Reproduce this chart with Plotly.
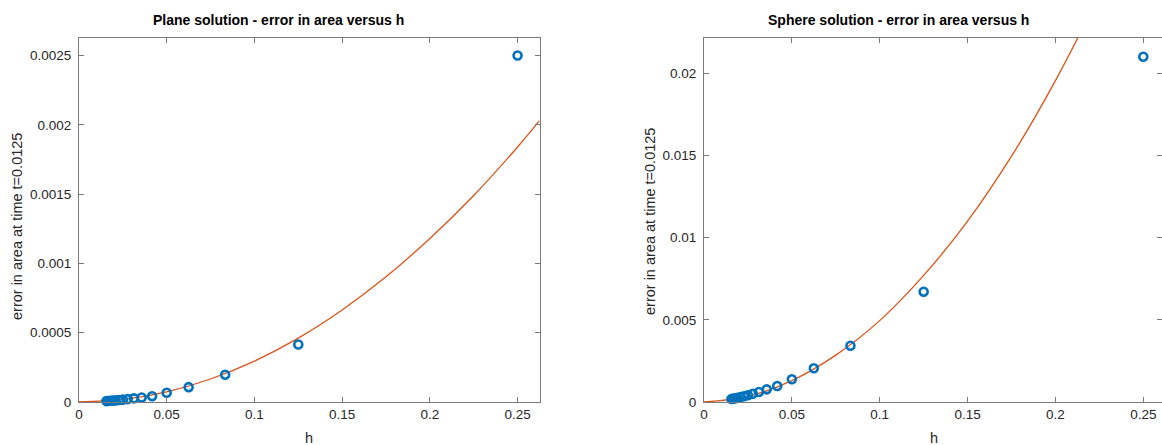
import plotly.graph_objects as go

# ---- data ----
h = [1/4, 1/8, 1/12, 1/16, 1/20, 1/24, 1/28, 1/32, 1/36, 1/40, 1/44, 1/48, 1/52, 1/56, 1/60, 1/64]
plane_err = [0.00250, 0.000415, 0.000197, 0.000107, 0.0000665, 0.000042, 0.0000325, 0.0000264,
             0.0000208, 0.0000169, 0.0000139, 0.0000117, 0.0000100, 0.0000086, 0.0000075, 0.0000066]
sphere_err = [0.0210, 0.00671, 0.00342, 0.00205, 0.00138, 0.00097, 0.00077, 0.00061,
              0.000497, 0.000413, 0.00035, 0.00030, 0.00026, 0.000229, 0.000203, 0.000181]

# fitted curves
fit_h = [0, 0.025, 0.05, 0.075, 0.1, 0.125, 0.15, 0.175, 0.2, 0.225, 0.25, 0.2625]
plane_fit = [0, 0.0000184, 0.0000738, 0.000166, 0.000295, 0.000461, 0.000664, 0.000903,
             0.00118, 0.00149, 0.00184, 0.00203]
sphere_fit = [0, 0.00034, 0.00130, 0.00285, 0.00495, 0.00770, 0.01100, 0.01495,
              0.01955, 0.02480, 0.03060, 0.03375]

x_ticks = [0, 0.05, 0.1, 0.15, 0.2, 0.25]
x_labels = ["0", "0.05", "0.1", "0.15", "0.2", "0.25"]
yL_ticks = [0, 0.0005, 0.001, 0.0015, 0.002, 0.0025]
yL_labels = ["0", "0.0005", "0.001", "0.0015", "0.002", "0.0025"]
yR_ticks = [0, 0.005, 0.01, 0.015, 0.02]
yR_labels = ["0", "0.005", "0.01", "0.015", "0.02"]

titles = ["Plane solution - error in area versus h", "Sphere solution - error in area versus h"]
x_title = "h"
y_title = "error in area at time t=0.0125"

# ---- layout constants ----
W, H = 1162, 445
BLUE = "#0072BD"
ORANGE = "#D95319"
AXC = "#7a7a7a"
TXT = "#262626"
FONT = "Liberation Sans, Arial, sans-serif"

def px_x(p):
    return p / W

def px_y(p):
    return 1 - p / H

fig = go.Figure()

for i, (err, fit) in enumerate([(plane_err, plane_fit), (sphere_err, sphere_fit)]):
    xa = "x" if i == 0 else "x2"
    ya = "y" if i == 0 else "y2"
    fig.add_trace(go.Scatter(x=fit_h, y=fit, mode="lines", line=dict(color=ORANGE, width=1.3, shape="spline"),
                             xaxis=xa, yaxis=ya, showlegend=False, hoverinfo="skip"))
    fig.add_trace(go.Scatter(x=h, y=err, mode="markers",
                             marker=dict(symbol="circle-open", size=8, color=BLUE, line=dict(width=2.6, color=BLUE)),
                             xaxis=xa, yaxis=ya, showlegend=False, cliponaxis=False))

ax_common = dict(showline=True, linecolor=AXC, linewidth=1, mirror="ticks", ticks="inside", ticklen=5,
                 tickcolor=AXC, tickwidth=1, showgrid=False, zeroline=False, automargin=False,
                 tickfont=dict(family=FONT, size=13.5, color=TXT))

ydom = [px_y(402), px_y(38)]
fig.update_layout(
    width=W, height=H, margin=dict(l=0, r=0, t=0, b=0),
    paper_bgcolor="white", plot_bgcolor="white", template="none",
    xaxis=dict(domain=[px_x(79), px_x(539.5)], range=[0, 0.2625], tickvals=x_ticks, ticktext=x_labels,
               anchor="y", **ax_common),
    yaxis=dict(domain=ydom, range=[0, 0.002626], tickvals=yL_ticks, ticktext=yL_labels, anchor="x",
               ticklabelstandoff=4, **ax_common),
    xaxis2=dict(domain=[px_x(704), 1.0], range=[0, (1162 - 704) / 1757.2], tickvals=x_ticks, ticktext=x_labels,
                anchor="y2", **ax_common),
    yaxis2=dict(domain=ydom, range=[0, 0.02214], tickvals=yR_ticks, ticktext=yR_labels, anchor="x2",
                ticklabelstandoff=4, **ax_common),
)

ann = []
for cx, t in zip([278, 898], titles):
    ann.append(dict(x=px_x(cx), y=px_y(20), xref="paper", yref="paper", text="<b>%s</b>" % t, showarrow=False,
                    xanchor="center", yanchor="middle", font=dict(family=FONT, size=14, color="black")))
for cx in [309, 934]:
    ann.append(dict(x=px_x(cx), y=px_y(438), xref="paper", yref="paper", text=x_title, showarrow=False,
                    xanchor="center", yanchor="middle", font=dict(family=FONT, size=14.5, color=TXT)))
for cx, cy in [(17, 227), (650, 222)]:
    ann.append(dict(x=px_x(cx), y=px_y(cy), xref="paper", yref="paper", text=y_title, showarrow=False,
                    textangle=-90, xanchor="center", yanchor="middle", font=dict(family=FONT, size=14.5, color=TXT)))
fig.update_layout(annotations=ann)

fig.write_html("out.html")
